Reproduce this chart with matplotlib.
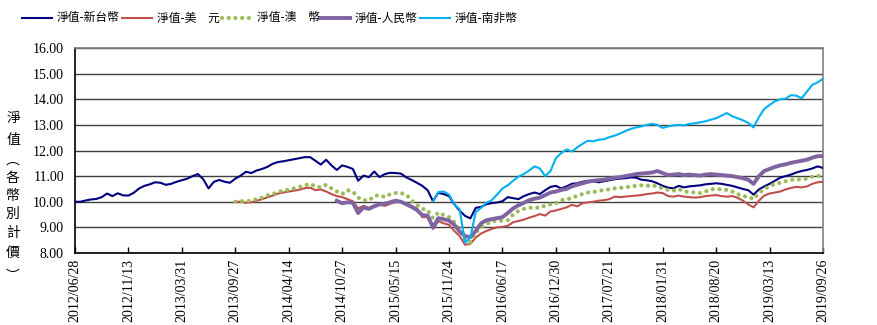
import numpy as np
import matplotlib
matplotlib.use('Agg')
import matplotlib.pyplot as plt
from matplotlib.lines import Line2D

# x 軸標籤(等距類別軸)
dates = ['2012/06/28', '2012/11/13', '2013/03/31', '2013/09/27', '2014/04/14',
         '2014/10/27', '2015/05/15', '2015/11/24', '2016/06/17', '2016/12/30',
         '2017/07/21', '2018/01/31', '2018/08/20', '2019/03/13', '2019/09/26']

# 各幣別淨值, 每 0.1 個刻度間隔取一點
twd_start = 0.0
twd = [10.00, 10.00, 10.05, 10.09, 10.11, 10.18, 10.32, 10.22, 10.33, 10.25,
       10.24, 10.35, 10.52, 10.62, 10.68, 10.76, 10.74, 10.66, 10.70, 10.78,
       10.84, 10.90, 11.00, 11.08, 10.88, 10.52, 10.78, 10.85, 10.78, 10.74,
       10.90, 11.02, 11.17, 11.12, 11.22, 11.28, 11.36, 11.48, 11.55, 11.58,
       11.62, 11.66, 11.70, 11.74, 11.74, 11.60, 11.45, 11.64, 11.42, 11.24,
       11.42, 11.36, 11.28, 10.82, 11.02, 10.96, 11.18, 10.96, 11.08, 11.13,
       11.12, 11.10, 10.95, 10.85, 10.74, 10.62, 10.45, 10.02, 10.35, 10.30,
       10.22, 9.90, 9.65, 9.45, 9.35, 9.76, 9.80, 9.90, 9.95, 9.97,
       10.02, 10.18, 10.14, 10.10, 10.22, 10.30, 10.36, 10.30, 10.45, 10.58,
       10.62, 10.52, 10.60, 10.70, 10.72, 10.78, 10.82, 10.80, 10.76, 10.80,
       10.84, 10.88, 10.90, 10.92, 10.95, 10.94, 10.86, 10.84, 10.80, 10.72,
       10.62, 10.55, 10.52, 10.62, 10.56, 10.60, 10.62, 10.64, 10.68, 10.70,
       10.72, 10.70, 10.66, 10.62, 10.56, 10.50, 10.45, 10.28, 10.48, 10.60,
       10.70, 10.82, 10.94, 11.00, 11.06, 11.14, 11.20, 11.24, 11.30, 11.38,
       11.32]

usd_start = 3.0
usd = [10.00, 10.00, 9.96, 9.98, 10.04, 10.10, 10.17, 10.24, 10.32, 10.36,
       10.40, 10.43, 10.47, 10.53, 10.55, 10.45, 10.48, 10.40, 10.30, 10.22,
       10.18, 10.10, 10.02, 9.74, 9.84, 9.76, 9.86, 9.88, 9.84, 9.92,
       9.98, 10.00, 9.92, 9.84, 9.74, 9.40, 9.40, 8.94, 9.24, 9.16,
       9.10, 8.86, 8.66, 8.32, 8.36, 8.60, 8.76, 8.86, 8.94, 9.00,
       9.02, 9.06, 9.20, 9.25, 9.30, 9.38, 9.44, 9.52, 9.46, 9.62,
       9.66, 9.72, 9.78, 9.88, 9.82, 9.94, 9.98, 10.00, 10.04, 10.06,
       10.10, 10.20, 10.18, 10.20, 10.22, 10.24, 10.26, 10.30, 10.32, 10.36,
       10.34, 10.22, 10.20, 10.24, 10.20, 10.18, 10.16, 10.18, 10.22, 10.24,
       10.26, 10.22, 10.20, 10.22, 10.16, 10.04, 9.90, 9.78, 10.04, 10.24,
       10.32, 10.36, 10.40, 10.48, 10.54, 10.58, 10.56, 10.60, 10.70, 10.76,
       10.78]

aud_start = 3.0
aud = [10.00, 10.02, 10.02, 10.04, 10.10, 10.16, 10.25, 10.30, 10.38, 10.44,
       10.47, 10.52, 10.58, 10.64, 10.70, 10.60, 10.56, 10.66, 10.52, 10.40,
       10.30, 10.45, 10.40, 10.16, 10.06, 10.05, 10.22, 10.26, 10.18, 10.30,
       10.34, 10.34, 10.28, 10.05, 9.88, 9.72, 9.68, 9.36, 9.58, 9.48,
       9.40, 9.20, 8.90, 8.54, 8.42, 8.80, 9.00, 9.12, 9.24, 9.26,
       9.26, 9.28, 9.50, 9.64, 9.72, 9.76, 9.78, 9.76, 9.86, 9.90,
       9.94, 10.06, 10.10, 10.14, 10.24, 10.30, 10.36, 10.38, 10.42, 10.46,
       10.48, 10.52, 10.54, 10.56, 10.60, 10.62, 10.64, 10.62, 10.64, 10.60,
       10.52, 10.46, 10.43, 10.50, 10.40, 10.38, 10.36, 10.34, 10.40, 10.48,
       10.50, 10.48, 10.46, 10.40, 10.30, 10.22, 10.20, 10.10, 10.34, 10.50,
       10.60, 10.70, 10.74, 10.80, 10.86, 10.86, 10.88, 10.90, 10.98, 11.00,
       11.04]

cny_start = 4.9
cny = [10.04,
       9.94, 9.98, 9.96, 9.56, 9.78, 9.72, 9.82, 9.90, 9.92, 9.98,
       10.04, 10.00, 9.90, 9.80, 9.68, 9.48, 9.46, 9.00, 9.36, 9.32,
       9.26, 9.10, 8.84, 8.66, 8.62, 8.86, 9.16, 9.28, 9.32, 9.36,
       9.40, 9.56, 9.74, 9.86, 9.96, 10.06, 10.12, 10.16, 10.26, 10.36,
       10.40, 10.46, 10.50, 10.60, 10.66, 10.72, 10.78, 10.82, 10.84, 10.86,
       10.90, 10.94, 10.96, 11.00, 11.04, 11.08, 11.10, 11.12, 11.14, 11.20,
       11.12, 11.04, 11.06, 11.08, 11.04, 11.06, 11.04, 11.02, 11.06, 11.08,
       11.06, 11.04, 11.02, 11.00, 10.96, 10.92, 10.86, 10.70, 11.00, 11.20,
       11.28, 11.36, 11.42, 11.46, 11.52, 11.56, 11.60, 11.64, 11.72, 11.78,
       11.78]

zar_start = 6.7
zar = [10.02, 10.38, 10.40,
       10.28, 9.90, 9.70, 8.40, 8.60, 9.60, 9.76, 9.96, 10.06, 10.28,
       10.52, 10.64, 10.82, 10.98, 11.08, 11.22, 11.38, 11.30, 11.00, 11.20,
       11.70, 11.90, 12.04, 11.96, 12.12, 12.26, 12.38, 12.36, 12.42, 12.44,
       12.52, 12.58, 12.66, 12.76, 12.84, 12.90, 12.94, 13.00, 13.04, 13.00,
       12.88, 12.94, 12.98, 13.00, 12.98, 13.04, 13.06, 13.10, 13.14, 13.20,
       13.26, 13.36, 13.46, 13.34, 13.26, 13.18, 13.08, 12.90, 13.30, 13.62,
       13.78, 13.92, 14.00, 14.02, 14.16, 14.14, 14.04, 14.30, 14.56, 14.66,
       14.80]

labels = ['淨值-新台幣', '淨值-美\u3000元', '淨值-澳\u3000幣', '淨值-人民幣', '淨值-南非幣']
colors = ['#000080', '#C0504D', '#9BBB59', '#8064A2', '#00B0F0']
widths = [1.5, 1.5, 3.0, 2.8, 1.5]
styles = ['-', '-', (0, (0.01, 1.6)), '-', '-']

cjk = ['Noto Sans CJK TC', 'DejaVu Sans']
serif = 'Liberation Serif'

W, H = 877, 325
fig = plt.figure(figsize=(W / 100, H / 100), dpi=100)
ax = fig.add_axes([75 / W, 1 - 253 / H, 748 / W, 205 / H])


def xs(start, vals):
    return start + np.arange(len(vals)) * 0.1


series = [(twd_start, twd), (usd_start, usd), (aud_start, aud),
          (cny_start, cny), (zar_start, zar)]
for (st, vals), c, lw, ls in zip(series, colors, widths, styles):
    ax.plot(xs(st, vals), vals, color=c, lw=lw, ls=ls,
            dash_capstyle='round', zorder=3)

ax.set_xlim(0, len(dates) - 1)
ax.set_ylim(8, 16)
ax.set_yticks(np.arange(8, 17, 1))
ax.set_yticklabels([f'{v:.2f}' for v in np.arange(8, 17, 1)], fontfamily=serif, fontsize=10)
ax.set_xticks(np.arange(len(dates)))
ax.set_xticklabels(dates, rotation=90, fontfamily=serif, fontsize=10)
ax.tick_params(axis='x', direction='in', length=4, width=1, pad=4)
ax.tick_params(axis='y', length=0, pad=8)
ax.yaxis.grid(True, color='#404040', lw=1.0)
ax.set_axisbelow(True)
for s in ['left', 'bottom']:
    ax.spines[s].set_color('black')
    ax.spines[s].set_linewidth(1.2)
for s in ['top', 'right']:
    ax.spines[s].set_color('#808080')
    ax.spines[s].set_linewidth(1.2)

# 直式 y 軸標題
ychars = ['淨', '值', '︵', '各', '幣', '別', '計', '價', '︶']
ypos = [118, 140, 160, 178, 196, 214, 233, 253, 276]
for ch, yp in zip(ychars, ypos):
    fig.text(13 / W, 1 - yp / H, ch, ha='center', va='center',
             fontsize=10, family=cjk)

# 圖例(手動排列)
leg_x = [22, 122, 222, 320, 420]
leg_y = 1 - 18 / H
for x0, lab, c, lw, ls in zip(leg_x, labels, colors, widths, styles):
    fig.add_artist(Line2D([x0 / W, (x0 + 30) / W], [leg_y, leg_y], color=c, lw=lw,
                          ls=ls, dash_capstyle='round', transform=fig.transFigure))
    fig.text((x0 + 35) / W, leg_y, lab, ha='left', va='center',
             fontsize=8.5, family=cjk)

fig.savefig('out.png', dpi=100)
